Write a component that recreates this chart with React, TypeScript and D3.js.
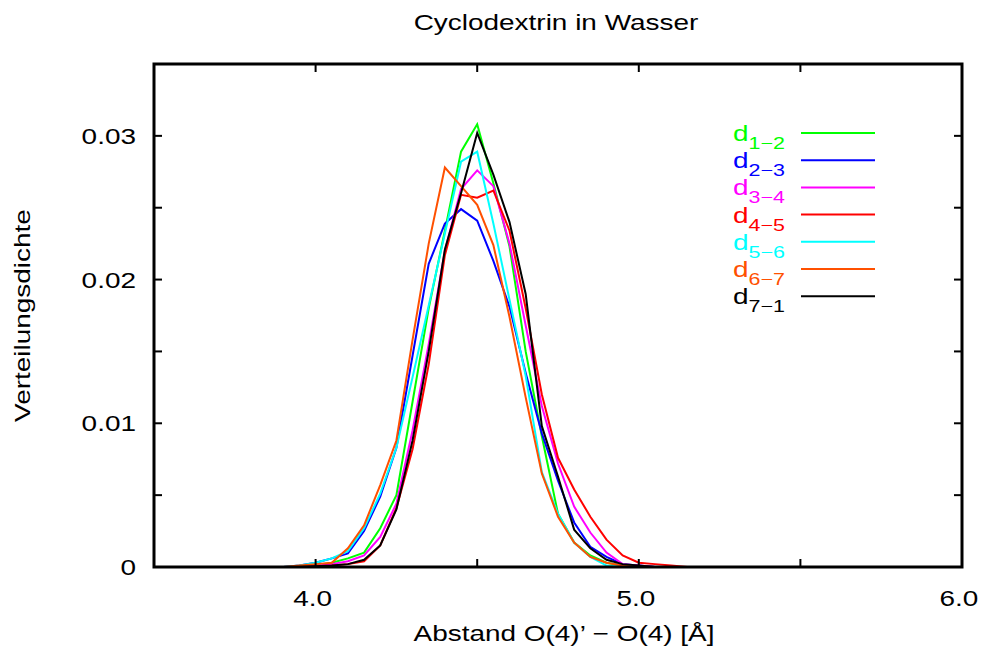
import React from "react";
import * as d3 from "d3";

const distances = [3.9, 3.95, 4.0, 4.05, 4.1, 4.15, 4.2, 4.25, 4.3, 4.35, 4.4, 4.45, 4.5, 4.55, 4.6, 4.65, 4.7, 4.75, 4.8, 4.85, 4.9, 4.95, 5.0, 5.05, 5.1, 5.15];

const d12 = [0, 0.00002, 0.0001, 0.0003, 0.0006, 0.001, 0.0027, 0.005, 0.0115, 0.018, 0.0234, 0.0289, 0.0308, 0.0267, 0.0223, 0.015, 0.0091, 0.0037, 0.0017, 0.0008, 0.0003, 0.0001, 0.00003, 0, 0, 0];
const d23 = [0, 0.0001, 0.0003, 0.0006, 0.00095, 0.0025, 0.0049, 0.0083, 0.0147, 0.0211, 0.0239, 0.0249, 0.0241, 0.0213, 0.0181, 0.0135, 0.0093, 0.006, 0.0031, 0.0014, 0.0007, 0.0002, 0.0001, 0, 0, 0];
const d34 = [0, 0, 0.0001, 0.0002, 0.0004, 0.0008, 0.0021, 0.0044, 0.0095, 0.0155, 0.022, 0.0263, 0.0276, 0.0265, 0.0225, 0.0168, 0.0112, 0.0072, 0.0042, 0.0024, 0.001, 0.0002, 0.0001, 0, 0, 0];
const d45 = [0, 0, 0.00005, 0.0001, 0.0002, 0.0004, 0.0015, 0.0041, 0.0082, 0.0141, 0.0217, 0.0259, 0.0257, 0.0262, 0.0234, 0.018, 0.012, 0.0076, 0.0054, 0.0035, 0.0019, 0.0008, 0.0003, 0.0002, 0.0001, 0];
const d56 = [0, 0.0001, 0.0003, 0.0006, 0.0011, 0.0027, 0.0051, 0.0083, 0.0132, 0.0182, 0.0232, 0.0282, 0.0289, 0.0239, 0.0186, 0.0133, 0.0066, 0.0037, 0.0017, 0.0007, 0.0001, 0, 0, 0, 0, 0];
const d67 = [0, 0.0001, 0.0002, 0.0003, 0.0013, 0.0029, 0.0057, 0.0088, 0.0158, 0.0225, 0.0278, 0.0265, 0.0252, 0.0224, 0.0174, 0.0118, 0.0065, 0.0035, 0.0017, 0.0007, 0.0003, 0.0001, 0, 0, 0, 0];
const d71 = [0, 0, 0.00005, 0.0001, 0.0002, 0.0005, 0.0015, 0.004, 0.0088, 0.015, 0.0221, 0.026, 0.0302, 0.0273, 0.024, 0.019, 0.0098, 0.0063, 0.0026, 0.0013, 0.0005, 0.0002, 0.0001, 0, 0, 0];

const seriesNames = ["1\u22122", "2\u22123", "3\u22124", "4\u22125", "5\u22126", "6\u22127", "7\u22121"];
const seriesColors = ["#00ff00", "#0000ff", "#ff00ff", "#ff0000", "#00ffff", "#ff5000", "#000000"];
const seriesValues = [d12, d23, d34, d45, d56, d67, d71];

const xTickLabels = [4.0, 5.0, 6.0];
const xMinorTicks = [3.5, 4.0, 4.5, 5.0, 5.5, 6.0];
const yTickLabels = [0, 0.01, 0.02, 0.03];
const yMinorTicks = [0, 0.005, 0.01, 0.015, 0.02, 0.025, 0.03, 0.035];

const title = "Cyclodextrin in Wasser";
const xTitle = "Abstand O(4)\u2019 \u2212 O(4) [\u00c5]";
const yTitle = "Verteilungsdichte";

export default function App() {
  const W = 984, H = 647;
  const left = 154, right = 962, top = 64, bottom = 567;
  const x = d3.scaleLinear().domain([3.5, 6.0]).range([left, right]);
  const y = d3.scaleLinear().domain([0, 0.035]).range([bottom, top]);
  const line = d3.line<number>().x((_, i) => x(distances[i])).y((v) => y(v));
  const font = "'Liberation Sans', Arial, Helvetica, sans-serif";
  const fs = 21.5;
  const sx = 1.3;
  const tick = 8;

  const T = (props: { x: number; y: number; anchor: string; children: any; size?: number; fill?: string }) => (
    <text
      transform={`translate(${props.x},${props.y}) scale(${sx},1)`}
      textAnchor={props.anchor}
      fontSize={props.size ?? fs}
      fill={props.fill ?? "#000"}
      fontFamily={font}
    >
      {props.children}
    </text>
  );

  const legendTop = 133;
  const legendStep = 27.2;

  return (
    <svg width={W} height={H} style={{ position: "absolute", left: 0, top: 0, background: "#fff" }}>
      <rect x={0} y={0} width={W} height={H} fill="#fff" />
      <defs>
        <clipPath id="clip">
          <rect x={left} y={top} width={right - left} height={bottom - top} />
        </clipPath>
      </defs>
      {/* data lines */}
      <g clipPath="url(#clip)">
        {seriesValues.map((vals, k) => (
          <path key={k} d={line(vals) ?? ""} fill="none" stroke={seriesColors[k]} strokeWidth={2} strokeLinejoin="miter" />
        ))}
      </g>
      {/* ticks */}
      <g stroke="#000" strokeWidth={2}>
        {xMinorTicks.map((t) => (
          <g key={"xt" + t}>
            <line x1={x(t)} x2={x(t)} y1={bottom} y2={bottom - tick} />
            <line x1={x(t)} x2={x(t)} y1={top} y2={top + tick} />
          </g>
        ))}
        {yMinorTicks.map((t) => (
          <g key={"yt" + t}>
            <line x1={left} x2={left + tick} y1={y(t)} y2={y(t)} />
            <line x1={right} x2={right - tick} y1={y(t)} y2={y(t)} />
          </g>
        ))}
      </g>
      <rect x={left} y={top} width={right - left} height={bottom - top} fill="none" stroke="#000" strokeWidth={3} />
      {/* tick labels */}
      {xTickLabels.map((t) => (
        <T key={"xl" + t} x={x(t) - 3} y={bottom + 39} anchor="middle">
          {t.toFixed(1)}
        </T>
      ))}
      {yTickLabels.map((t) => (
        <T key={"yl" + t} x={left - 18} y={y(t) + 8} anchor="end">
          {t === 0 ? "0" : t.toFixed(2)}
        </T>
      ))}
      {/* titles */}
      <T x={556} y={30} anchor="middle">{title}</T>
      <T x={564} y={641} anchor="middle">{xTitle}</T>
      <text
        transform={`translate(30,${(top + bottom) / 2}) rotate(-90) scale(${sx},1)`}
        textAnchor="middle"
        fontSize={fs}
        fontFamily={font}
        fill="#000"
      >
        {yTitle}
      </text>
      {/* legend */}
      {seriesNames.map((n, k) => {
        const ly = legendTop + k * legendStep;
        return (
          <g key={"lg" + n}>
            <text
              transform={`translate(785,${ly + 8}) scale(${sx},1)`}
              textAnchor="end"
              fontFamily={font}
              fill={seriesColors[k]}
              fontSize={fs}
            >
              <tspan>d</tspan>
              <tspan fontSize={16.5} dy={8}>{n}</tspan>
            </text>
            <line x1={801} x2={875} y1={ly} y2={ly} stroke={seriesColors[k]} strokeWidth={2} />
          </g>
        );
      })}
    </svg>
  );
}
